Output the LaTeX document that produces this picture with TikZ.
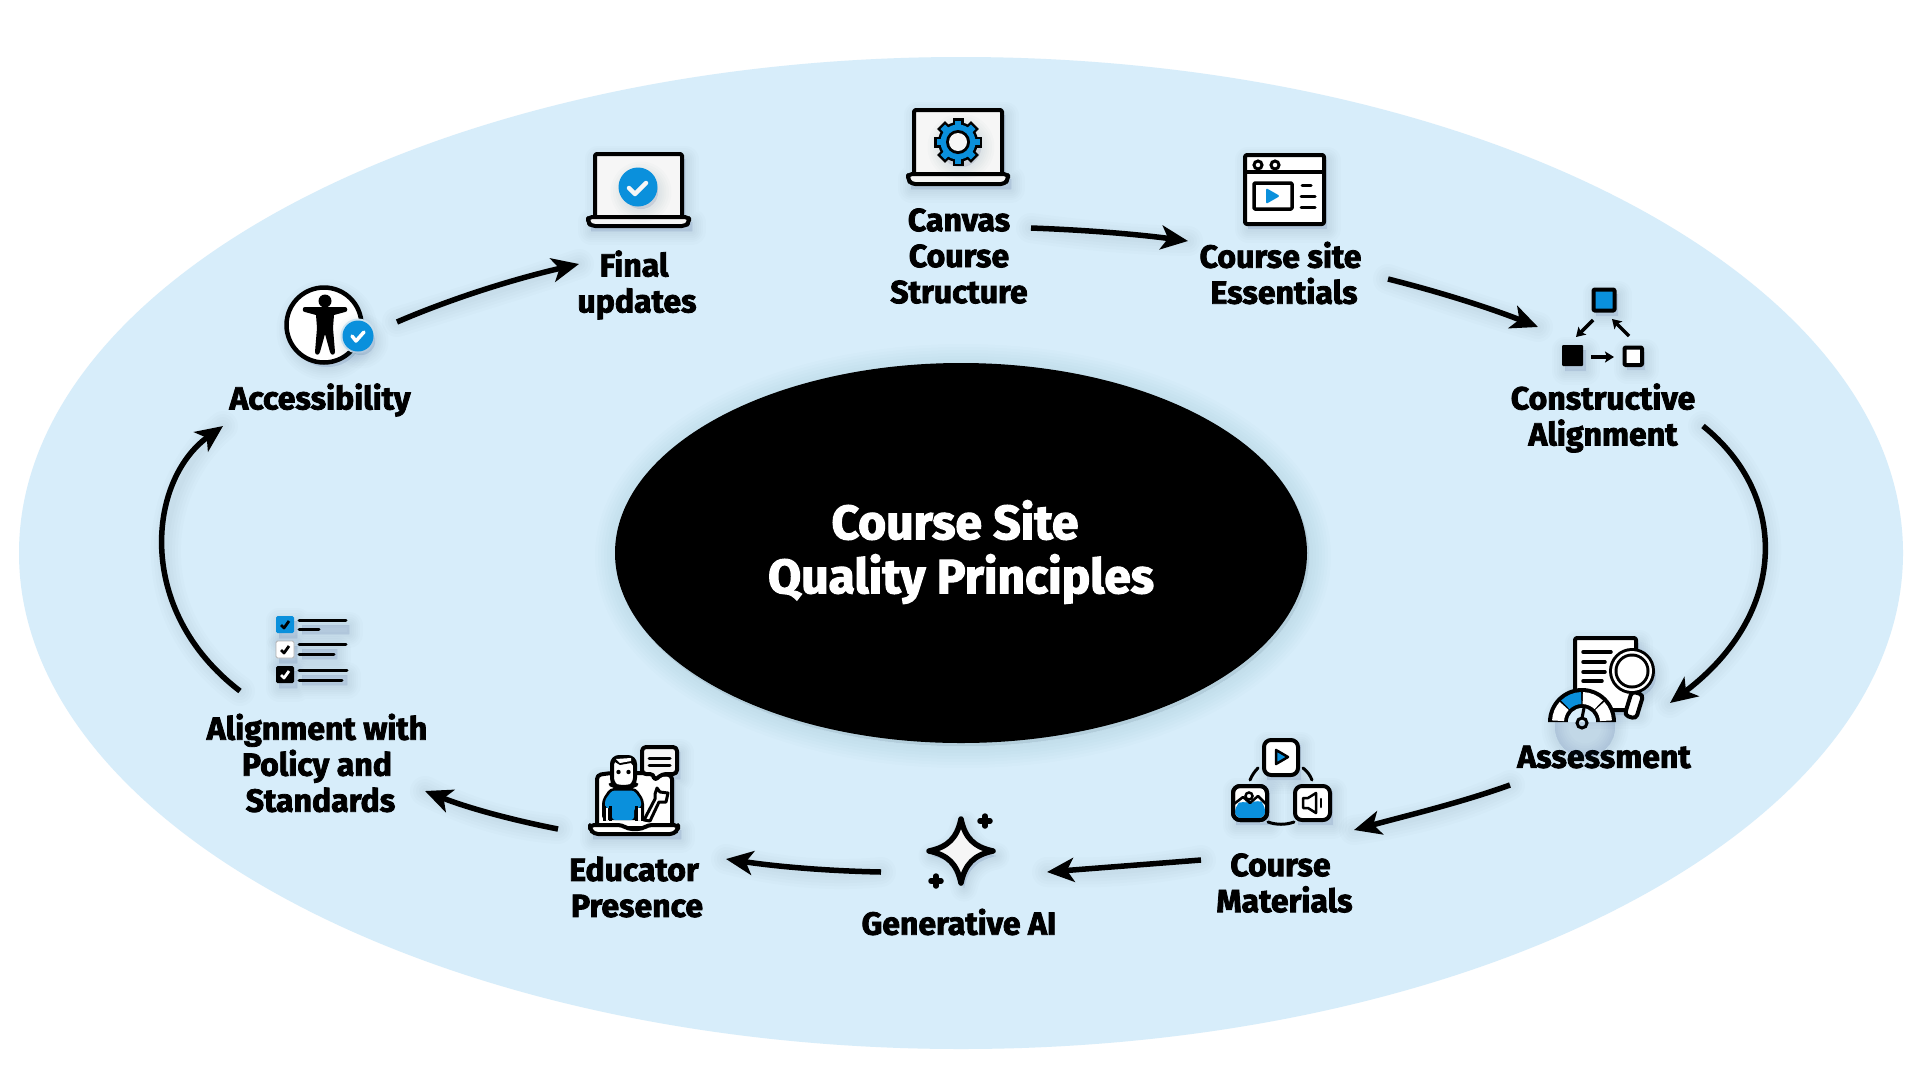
\documentclass[tikz,border=0pt]{standalone}
\usepackage{fontspec}
\newfontfamily\lab[BoldFeatures={FakeBold=2.5,FakeStretch=1.0}]{Fira Sans}
\usetikzlibrary{arrows.meta,calc}
\definecolor{skyb}{HTML}{D7EDFA}
\definecolor{bluei}{HTML}{0A90DC}
\definecolor{papr}{HTML}{F6F6F6}
\definecolor{shd}{HTML}{1E466E}
\tikzset{
  lbl/.style={font=\lab\bfseries\fontsize{32}{36}\selectfont,align=center,inner sep=0pt,text=black},
  ttl/.style={font=\lab\bfseries\fontsize{48}{54}\selectfont,align=center,inner sep=0pt,text=white},
  flow/.style={line width=5.5,draw=black,-{Stealth[length=27,width=24,inset=7]}},
  ink/.style={line width=4,draw=black,line join=round,line cap=round},
  thin/.style={line width=3,draw=black,line cap=round},
  tiny/.style={line width=3.5,draw=black,-{Stealth[length=9,width=11,inset=2]}},
  halo/.style={draw=shd,draw opacity=.014,fill=shd,fill opacity=.014,line cap=round,line join=round,shift={(3,5)}},
  halol/.style={draw=shd,draw opacity=.014,line cap=round,line join=round,shift={(3,6)}},
  haloc/.style={draw=shd,draw opacity=.011,fill=shd,fill opacity=.011,shift={(2,3)}},
}
% soft shadow: stacked translucent strokes of the path given
\newcommand\glow[1]{\foreach \wd in {1,5,9,13,17,22,27}{\path[halo,line width=\wd] #1;}}
\newcommand\glowline[1]{\foreach \wd in {6,12,18,24,30}{\path[halol,line width=\wd] #1;}}
\begin{document}
\begin{tikzpicture}[x=1pt,y=-1pt]
\useasboundingbox (0,0) rectangle (1920,1080);
\fill[white] (0,0) rectangle (1920,1080);
\fill[skyb] (961,553) ellipse [x radius=942,y radius=496];
% centre
\foreach \wd in {2,8,14,20,26,32,38,44}{\path[haloc,line width=\wd] (961,553) ellipse [x radius=346,y radius=190];}
\fill[black] (961,553) ellipse [x radius=346,y radius=190];
\node[ttl] (title) at (961,552) {Course Site\hspace*{12pt}\\Quality Principles};

% labels
\node[lbl] (final) at (637,285) {Final\hspace*{6pt}\\updates};
\node[lbl] (canvas) at (959,256) {Canvas\\Course\\Structure};
\node[lbl] (site) at (1283,273) {Course site\hspace*{5pt}\\\hspace*{2pt}Essentials};
\node[lbl] (constr) at (1603,418) {Constructive\\Alignment};
\node[lbl] (assess) at (1604,757) {Assessment};
\node[lbl] (mater) at (1283,883) {Course\hspace*{5pt}\\\hspace*{3pt}Materials};
\node[lbl] (genai) at (959,922) {Generative AI};
\node[lbl] (educ) at (636,887) {Educator\hspace*{4pt}\\\hspace*{2pt}Presence};
\node[lbl] (align) at (317,763) {Alignment with\\Policy and\\\hspace*{7pt}Standards};
\node[lbl] (access) at (320,400) {Accessibility};

% connector ends
\coordinate (c1a) at (1031,228); \coordinate (c1b) at (1188,241);
\coordinate (c2a) at (1388,279); \coordinate (c2b) at (1538,327);
\coordinate (c3a) at (1703,426); \coordinate (c3b) at (1670,703);
\coordinate (c4a) at (1510,785); \coordinate (c4b) at (1354,830);
\coordinate (c5a) at (1201,860); \coordinate (c5b) at (1047,872);
\coordinate (c6a) at (881,872);  \coordinate (c6b) at (726,859);
\coordinate (c7a) at (558,829);  \coordinate (c7b) at (425,791);
\coordinate (c8a) at (240,691);  \coordinate (c8b) at (223,426);
\coordinate (c9a) at (397,322);  \coordinate (c9b) at (579,264);

\newcommand\cA{(c1a) .. controls (1085,230) and (1135,234) .. (c1b)}
\newcommand\cB{(c2a) .. controls (1440,292) and (1490,308) .. (c2b)}
\newcommand\cC{(c3a) .. controls (1789,495) and (1789,613) .. (c3b)}
\newcommand\cD{(c4a) .. controls (1460,803) and (1405,816) .. (c4b)}
\newcommand\cE{(c5a) .. controls (1150,864) and (1098,868) .. (c5b)}
\newcommand\cF{(c6a) .. controls (830,871) and (780,867) .. (c6b)}
\newcommand\cG{(c7a) .. controls (512,820) and (468,808) .. (c7b)}
\newcommand\cH{(c8a) .. controls (134,610) and (148,480) .. (c8b)}
\newcommand\cI{(c9a) .. controls (455,297) and (518,278) .. (c9b)}
\foreach \p in {\cA,\cB,\cC,\cD,\cE,\cF,\cG,\cH,\cI}{\glowline{\p}}
\draw[flow] \cA; \draw[flow] \cB; \draw[flow] \cC;
\draw[flow] \cD; \draw[flow] \cE; \draw[flow] \cF;
\draw[flow] \cG; \draw[flow] \cH; \draw[flow] \cI;

% --- Final updates laptop
\glow{(595,154) rectangle (682,218) (588,217) rectangle (689,226)}
\draw[ink,fill=papr,rounded corners=1.5] (595,154) rectangle (682,218);
\draw[ink,fill=papr,rounded corners=4] (588,217) -- (689,217) -- (689,222) -- (686,226) -- (591,226) -- (588,222) -- cycle;
\glow{(638,187) circle (17)}
\fill[bluei] (638,187) circle (19.5);
\draw[line width=4.5,draw=papr,line cap=round,line join=round] (629,188) -- (635,194) -- (646,183);

% --- Canvas laptop with gear
\glow{(914,110) rectangle (1002,175) (908,174) rectangle (1008,184)}
\draw[ink,fill=papr,rounded corners=1.5] (914,110) rectangle (1002,175);
\draw[ink,fill=papr,rounded corners=4] (908,174) -- (1008,174) -- (1008,179) -- (1005,184) -- (911,184) -- (908,179) -- cycle;
\glow{(958,142) circle (20)}
\foreach \a in {0,45,...,315}{\draw[line width=11,draw=black,shift={(958,142)},rotate=\a] (0,0) -- (24,0);}
\fill[black] (958,142) circle (20);
\foreach \a in {0,45,...,315}{\draw[line width=6.5,draw=bluei,shift={(958,142)},rotate=\a] (0,0) -- (21.5,0);}
\fill[bluei] (958,142) circle (17.5);
\fill[black] (958,142) circle (12);
\fill[papr] (958,142) circle (9);

% --- Course site window
\glow{(1245,155) rectangle (1324,224)}
\draw[ink,fill=white,rounded corners=2] (1245,155) rectangle (1324,224);
\draw[ink,line cap=butt] (1245,172) -- (1324,172);
\draw[line width=3] (1258,165) circle (4); \draw[line width=3] (1275,165) circle (4);
\draw[ink,rounded corners=1,line width=3.5] (1254,183) rectangle (1292,209);
\fill[bluei,rounded corners=2] (1266,188) -- (1280,196) -- (1266,204) -- cycle;
\draw[thin] (1302,185) -- (1311,185) (1301,196) -- (1315,196) (1301,207) -- (1315,207);

% --- Constructive alignment
\glow{(1593,289) rectangle (1615,311)}
\glow{(1562,345) rectangle (1583,366)}
\glow{(1624,347) rectangle (1642,365)}
\draw[ink,fill=bluei,rounded corners=1] (1593.5,289.5) rectangle (1614.5,310.5);
\fill[black,rounded corners=1] (1562,345) rectangle (1583,366);
\draw[ink,fill=white,rounded corners=1] (1624.5,347.5) rectangle (1642,365);
\draw[tiny] (1593,320) -- (1576,337);
\draw[tiny] (1629,336) -- (1612,319);
\draw[tiny] (1591,357) -- (1614,357);

% --- Assessment
\glow{(1575,638) rectangle (1636,710)}
\glow{(1632,671) circle (21)}
\glow{(1582,722) circle (30)}
\draw[ink,fill=white,rounded corners=2] (1575,638) -- (1636,638) -- (1636,690) -- (1636,710) -- (1575,710) -- cycle;
\draw[thin,line width=3.5] (1583,652) -- (1611,652) (1583,662) -- (1605,662) (1583,672) -- (1605,672) (1583,681) -- (1602,681);
\draw[ink,fill=white,rounded corners=4,rotate around={-17:(1637,695)}] (1631,693) rectangle (1643,718);
\fill[black] (1632,671) circle (23);
\fill[white] (1632,671) circle (20);
\fill[black] (1632,671) circle (17.5);
\fill[white] (1632,671) circle (14.5);
% gauge
\begin{scope}[shift={(1582,722)}]
\fill[black] (180:34) arc (180:360:34) -- (360:14) arc (360:180:14) -- cycle;
\fill[white] (183:30) arc (183:222:30) -- (222:18) arc (222:183:18) -- cycle;
\fill[bluei] (226:30) arc (226:268:30) -- (268:18) arc (268:226:18) -- cycle;
\fill[white] (272:30) arc (272:314:30) -- (314:18) arc (314:272:18) -- cycle;
\fill[white] (318:30) arc (318:357:30) -- (357:18) arc (357:318:18) -- cycle;
\fill[skyb] (-14,0) arc (180:360:14) -- cycle;
\draw[line width=3] (0,1) circle (5);
\draw[line width=3] (0,-4) -- (2,-14);
\end{scope}

% --- Course materials
\glow{(1264,740) rectangle (1298,775)}
\glow{(1233,786) rectangle (1267,820)}
\glow{(1295,786) rectangle (1330,820)}
\draw[ink,fill=white,rounded corners=7] (1264,740) rectangle (1298,775);
\draw[line width=2.5,fill=bluei,line join=round] (1276,750) -- (1288,757) -- (1276,764) -- cycle;
\draw[ink,fill=white,rounded corners=7] (1233,786) rectangle (1267,820);
\fill[bluei,rounded corners=6] (1235,806) -- (1243,800) -- (1250,805) -- (1258,799) -- (1265,805) -- (1265,818) -- (1235,818) -- cycle;
\draw[line width=2.5,line join=round] (1234,804) -- (1243,797) -- (1250,803) -- (1258,796) -- (1266,804);
\draw[line width=2.5] (1249,796) circle (3.5);
\draw[ink,rounded corners=7] (1233,786) rectangle (1267,820);
\draw[ink,fill=white,rounded corners=7] (1295,786) rectangle (1330,820);
\draw[line width=2.5,line join=round] (1303,798) -- (1308,798) -- (1316,793) -- (1316,813) -- (1308,808) -- (1303,808) -- cycle;
\draw[line width=2.5,line cap=round] (1321,799) -- (1321,807);
\draw[thin] (1250,780) .. controls (1252,775) and (1255,771) .. (1258,768);
\draw[thin] (1303,768) .. controls (1307,771) and (1310,775) .. (1312,780);
\draw[thin] (1268,822) .. controls (1276,825) and (1286,825) .. (1294,822);

% --- Generative AI
\newcommand\starpath{(961,819) .. controls (965,838) and (974,847) .. (993,851) .. controls (974,855) and (965,864) .. (961,883) .. controls (957,864) and (948,855) .. (929,851) .. controls (948,847) and (957,838) .. cycle}
\glow{\starpath}
\draw[line width=5.5,draw=black,fill=papr,line join=round] \starpath;
\draw[line width=5.5,line cap=round] (985,816) -- (985,826) (980,821) -- (990,821);
\draw[line width=5.5,line cap=round] (936,876) -- (936,886) (931,881) -- (941,881);

% --- Educator presence
\glow{(597,775) rectangle (672,828) (590,825) rectangle (678,834) (642,747) rectangle (677,774)}
\draw[ink,fill=white,rounded corners=4] (597,828) -- (597,775) -- (611,773) -- (640,773) -- (672,775) -- (672,828) -- cycle;
\draw[ink,fill=white,rounded corners=4] (590,825) -- (622,825) -- (628,829) -- (642,829) -- (648,825) -- (678,825) -- (678,829) -- (674,834) -- (594,834) -- (590,829) -- cycle;
% speech bubble
\draw[ink,fill=papr,rounded corners=4] (642,747) -- (677,747) -- (677,774) -- (662,774) -- (654,781) -- (654,774) -- (642,774) -- cycle;
\draw[thin] (649,758) -- (670,758) (649,765) -- (670,765);
% body
\fill[black,rounded corners=4] (602,820) -- (602,800) -- (610,788) -- (636,788) -- (644,800) -- (644,820) -- cycle;
\fill[bluei,rounded corners=3] (605,808) -- (605,800) -- (612,790.5) -- (634,790.5) -- (641,800) -- (641,808) -- (634,808) -- (634,820) -- (612,820) -- (612,808) -- cycle;
\fill[white] (605,808) rectangle (608,820);
\fill[white] (638,808) rectangle (641,820);
\draw[line width=3] (604,806) -- (604,821) (610,806) -- (610,821) (636,806) -- (636,821) (642,806) -- (642,821);
% head
\draw[ink,fill=white,rounded corners=7] (612,785) -- (612,757) -- (635,757) -- (635,785) -- (630,787) -- (617,787) -- cycle;
\fill[black] (612,768) -- (612,760) -- (618,756) -- (630,756) -- (635,760) -- (635,768) -- (631,763) -- (620,765) -- (615,762) -- cycle;
\fill[white] (616,759) -- (631,758) -- (631,761) -- (620,763) -- cycle;
\fill[black] (618.5,772) circle (2.2) (628.5,772) circle (2.2);
% hand and arm
\draw[line width=3,fill=white,line join=round] (644,820) -- (655,799) -- (655,794) -- (657,788) -- (660,792) -- (668,793) -- (666,802) -- (659,802) -- (650,821) -- cycle;

% --- Policy checklist
\glow{(276,616) rectangle (294,633) (299,620) rectangle (346,629)}
\glow{(276,641) rectangle (294,658) (299,644) rectangle (334,654)}
\glow{(276,666) rectangle (294,683) (299,670) rectangle (344,680)}
\fill[bluei,rounded corners=1.5] (276,616) rectangle (294,633);
\draw[line width=.8,draw=gray!60,fill=white,rounded corners=1.5] (276,641) rectangle (294,658);
\fill[black,rounded corners=1.5] (276,666) rectangle (294,683);
\draw[line width=2.8,line join=round] (281,625) -- (284,628) -- (289,621);
\draw[line width=2.8,line join=round] (281,650) -- (284,653) -- (289,646);
\draw[line width=2.8,draw=white,line join=round] (281,675) -- (284,678) -- (289,671);
\draw[thin] (299,620) -- (346,620) (299,629) -- (319,629) (299,644) -- (346,644) (299,654) -- (334,654) (299,670) -- (347,670) (299,680) -- (342,680);

% --- Accessibility
\glow{(324,325) circle (37)}
\fill[white] (324,325) circle (39);
\draw[line width=4.5] (324,325) circle (37.5);
\fill[black] (325,301) circle (6.5);
\fill[black] (305,307) -- (345,307) .. controls (348,307) and (348,312) .. (345,312) -- (334,315) -- (333,328) -- (335,352) .. controls (335,355) and (331,356) .. (330,352) -- (325,334) -- (320,352) .. controls (319,356) and (315,355) .. (315,352) -- (317,328) -- (316,315) -- (305,312) .. controls (302,312) and (302,307) .. (305,307) -- cycle;
\fill[skyb] (358,336) circle (17.5);
\glow{(358,336) circle (14)}
\fill[bluei] (358,336) circle (15.5);
\draw[line width=3.5,draw=white,line cap=round,line join=round] (352,336) -- (356,341) -- (364,332);
\end{tikzpicture}
\end{document}
